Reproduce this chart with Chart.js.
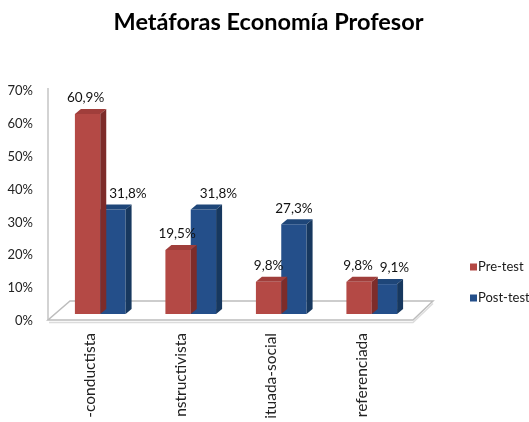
<!DOCTYPE html>
<html><head><meta charset="utf-8">
<script src="https://cdn.jsdelivr.net/npm/chart.js@4.4.1/dist/chart.umd.min.js"></script>
<style>html,body{margin:0;padding:0;background:#fff;overflow:hidden}#wrap{width:529px;height:422px;position:relative}</style>
</head><body><div id="wrap"><canvas id="c" width="529" height="422"></canvas></div>
<script>
// ---- data ----
const chartTitle = 'Metáforas Economía Profesor';
const categories = ['-conductista', 'nstructivista', 'ituada-social', 'referenciada'];
const seriesNames = ['Pre-test', 'Post-test'];
const preTest = [60.9, 19.5, 9.8, 9.8];
const postTest = [31.8, 31.8, 27.3, 9.1];
const yTickMin = 0, yTickMax = 70, yTickStep = 10;

// ---- styles ----
const frontColors = ['#b44945', '#244f8a'];
const topColors = ['#a03e3b', '#1e4679'];
const sideColors = ['#7d2c2a', '#17385f'];
const depth = {dx: 6, dy: -5};
const labelShift = [[-2, -1, 0, -1], [15, 15, 0, 10]];
const fmt = v => v.toFixed(1).replace('.', ',') + '%';

const faces = {
  id: 'faces',
  afterLayout(chart) {
    const t = chart.titleBlock;
    if (t) { t.left = 4; t.right = chart.width + 4; t.width = chart.width; }
  },
  beforeDatasetsDraw(chart) {
    const {ctx, chartArea: a} = chart;
    ctx.save();
    // left wall edge
    ctx.strokeStyle = '#c4c4c4'; ctx.lineWidth = 1.5;
    ctx.beginPath(); ctx.moveTo(a.left - 7, a.top + 4); ctx.lineTo(a.left - 7, a.bottom + 6); ctx.stroke();
    // floor
    ctx.beginPath();
    ctx.moveTo(a.left - 7, a.bottom + 6);
    ctx.lineTo(a.right - 4, a.bottom + 6);
    ctx.lineTo(a.right + 16, a.bottom - 13);
    ctx.lineTo(a.left + 15, a.bottom - 13);
    ctx.closePath();
    ctx.fillStyle = '#ffffff'; ctx.fill();
    ctx.strokeStyle = '#bdbdbd'; ctx.lineWidth = 1.5; ctx.stroke();
    ctx.strokeStyle = '#dcdcdc'; ctx.lineWidth = 1.5;
    ctx.beginPath(); ctx.moveTo(a.left - 6, a.bottom + 8.5); ctx.lineTo(a.right - 4, a.bottom + 8.5); ctx.lineTo(a.right + 16, a.bottom - 10.5); ctx.stroke();
    ctx.restore();
  },
  afterDatasetDraw(chart, args) {
    const {ctx} = chart;
    const i = args.index;
    ctx.save();
    args.meta.data.forEach(bar => {
      const {x, y, width, base} = bar.getProps(['x', 'y', 'width', 'base'], true);
      const l = x - width / 2, r = x + width / 2;
      ctx.fillStyle = topColors[i];
      ctx.beginPath();
      ctx.moveTo(l, y); ctx.lineTo(l + depth.dx, y + depth.dy); ctx.lineTo(r + depth.dx, y + depth.dy); ctx.lineTo(r, y);
      ctx.closePath(); ctx.fill();
      ctx.fillStyle = sideColors[i];
      ctx.beginPath();
      ctx.moveTo(r, y); ctx.lineTo(r + depth.dx, y + depth.dy); ctx.lineTo(r + depth.dx, base + depth.dy); ctx.lineTo(r, base);
      ctx.closePath(); ctx.fill();
    });
    ctx.restore();
  },
  afterDatasetsDraw(chart) {
    const {ctx} = chart;
    ctx.save();
    ctx.font = '13.5px Lato'; ctx.fillStyle = '#111';
    ctx.textAlign = 'center'; ctx.textBaseline = 'middle';
    chart.data.datasets.forEach((ds, i) => {
      chart.getDatasetMeta(i).data.forEach((bar, j) => {
        ctx.fillText(fmt(ds.data[j]), bar.x + labelShift[i][j], bar.y - 16);
      });
    });
    // legend
    const a = chart.chartArea;
    ctx.textAlign = 'left';
    ctx.font = '13px Lato';
    chart.data.datasets.forEach((ds, i) => {
      const cy = 267 + i * 31;
      ctx.fillStyle = ds.backgroundColor;
      ctx.fillRect(a.right + 53, cy - 3.5, 7, 7);
      ctx.fillStyle = '#1a1a1a';
      ctx.fillText(ds.label, a.right + 61, cy);
    });
    ctx.restore();
  }
};

function build() {
  new Chart(document.getElementById('c'), {
    type: 'bar',
    data: {
      labels: categories,
      datasets: [
        {label: seriesNames[0], data: preTest, backgroundColor: frontColors[0]},
        {label: seriesNames[1], data: postTest, backgroundColor: frontColors[1]}
      ]
    },
    options: {
      responsive: false,
      animation: false,
      devicePixelRatio: 1,
      categoryPercentage: 0.56,
      barPercentage: 1.0,
      layout: {padding: {left: 0, right: 112, top: 0, bottom: 0}},
      plugins: {
        legend: {display: false},
        tooltip: {enabled: false},
        title: {display: true, text: chartTitle, color: '#000',
          font: {family: 'Lato', size: 23.5, weight: 'bold'},
          padding: {top: 8, bottom: 47.8}}
      },
      scales: {
        x: {
          grid: {display: false, drawTicks: false}, border: {display: false},
          ticks: {minRotation: 90, maxRotation: 90, autoSkip: false, padding: 19, labelOffset: -10,
            color: '#222', font: {family: 'Lato', size: 15.5}},
          afterFit(s) { s.height = 108; }
        },
        y: {
          min: yTickMin, max: yTickMax,
          grid: {display: false, drawTicks: false}, border: {display: false},
          ticks: {stepSize: yTickStep, callback: v => v + '%', padding: 22, labelOffset: 7,
            color: '#222', font: {family: 'Lato', size: 13}},
          afterFit(s) { s.width = 55; }
        }
      }
    },
    plugins: [faces]
  });
}
Promise.all([document.fonts.load('13px Lato'), document.fonts.load('bold 22px Lato')]).then(build, build);
</script></body></html>
